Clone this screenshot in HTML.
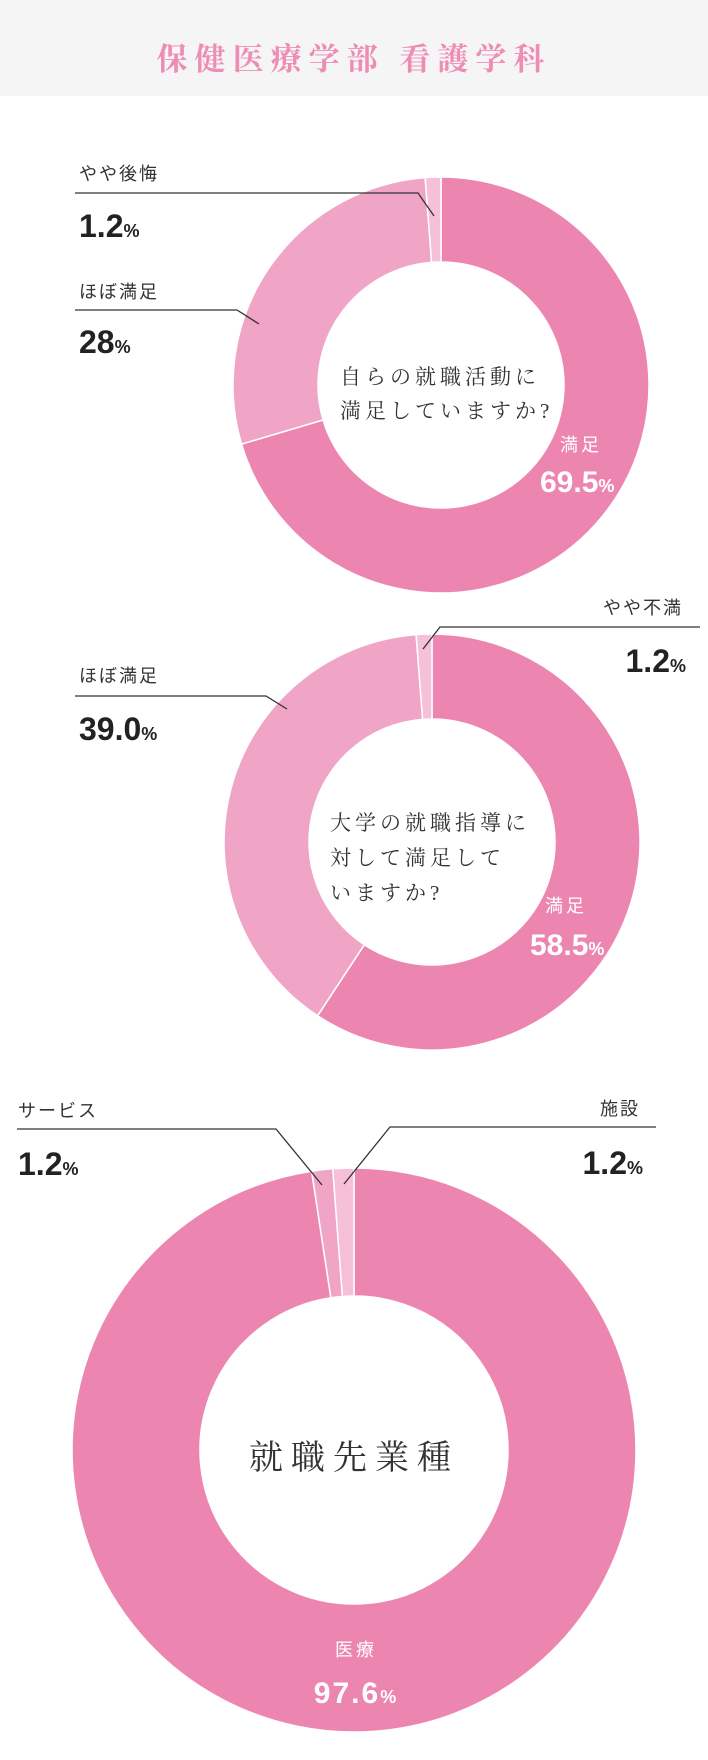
<!DOCTYPE html>
<html><head><meta charset="utf-8">
<style>
body{margin:0;width:708px;height:1760px;background:#fff;overflow:hidden;font-family:"Liberation Sans","Noto Sans CJK JP",sans-serif;}
svg{display:block}
.lbl{font-family:"Liberation Sans","Noto Sans CJK JP",sans-serif;font-size:18px;fill:#333;letter-spacing:2px}
.num{font-family:"Liberation Sans Narrow","Liberation Sans",sans-serif;font-weight:bold;font-size:32px;fill:#222}
.pct{font-size:18px}
.ctr{font-family:"Liberation Serif","Noto Serif CJK SC",serif;font-size:21px;fill:#333;letter-spacing:4px}
.wl{font-family:"Liberation Sans","Noto Sans CJK JP",sans-serif;font-size:18px;fill:#fff;letter-spacing:3px}
.wn{font-family:"Liberation Sans Narrow","Liberation Sans",sans-serif;font-weight:bold;font-size:30px;fill:#fff}
</style></head>
<body>
<svg id="page" width="708" height="1760" viewBox="0 0 708 1760">
<rect x="0" y="0" width="708" height="96" fill="#f5f5f5"/>
<text x="354" y="70" text-anchor="middle" font-family="'Liberation Serif','Noto Serif CJK SC',serif" font-weight="bold" font-size="31" fill="#ee8cb4" letter-spacing="7">保健医療学部 看護学科</text>
<g id="charts"></g>

<!-- chart1 labels -->
<text class="lbl" x="79" y="180">やや後悔</text>
<polyline points="75,193 418,193 434,216" fill="none" stroke="#333" stroke-width="1.3"/>
<text class="num" x="79" y="237">1.2<tspan class="pct">%</tspan></text>
<text class="lbl" x="79" y="298">ほぼ満足</text>
<polyline points="75,310 237,310 259,324" fill="none" stroke="#333" stroke-width="1.3"/>
<text class="num" x="79" y="353">28<tspan class="pct">%</tspan></text>
<text class="ctr" x="340" y="384">自らの就職活動に</text>
<text class="ctr" x="340" y="418">満足していますか?</text>
<text class="wl" x="560" y="451">満足</text>
<text class="wn" x="540" y="492">69.5<tspan class="pct">%</tspan></text>

<!-- chart2 labels -->
<text class="lbl" x="683" y="614" text-anchor="end">やや不満</text>
<polyline points="700,627 440,627 423,649" fill="none" stroke="#333" stroke-width="1.3"/>
<text class="num" x="686" y="672" text-anchor="end">1.2<tspan class="pct">%</tspan></text>
<text class="lbl" x="79" y="682">ほぼ満足</text>
<polyline points="75,696 266,696 287,709" fill="none" stroke="#333" stroke-width="1.3"/>
<text class="num" x="79" y="740">39.0<tspan class="pct">%</tspan></text>
<text class="ctr" x="330" y="830">大学の就職指導に</text>
<text class="ctr" x="330" y="865">対して満足して</text>
<text class="ctr" x="330" y="900">いますか?</text>
<text class="wl" x="545" y="912">満足</text>
<text class="wn" x="530" y="955">58.5<tspan class="pct">%</tspan></text>

<!-- chart3 labels -->
<text class="lbl" x="18" y="1117">サービス</text>
<polyline points="17,1129 276,1129 322,1185" fill="none" stroke="#333" stroke-width="1.3"/>
<text class="num" x="18" y="1175">1.2<tspan class="pct">%</tspan></text>
<text class="lbl" x="640" y="1115" text-anchor="end">施設</text>
<polyline points="656,1127 390,1127 344,1184" fill="none" stroke="#333" stroke-width="1.3"/>
<text class="num" x="643" y="1174" text-anchor="end">1.2<tspan class="pct">%</tspan></text>
<text x="354" y="1469" text-anchor="middle" font-family="'Liberation Serif','Noto Serif CJK SC',serif" font-size="34" fill="#333" letter-spacing="8">就職先業種</text>
<text class="wl" x="356" y="1656" text-anchor="middle">医療</text>
<text class="wn" x="356" y="1703" text-anchor="middle" letter-spacing="2">97.6<tspan class="pct">%</tspan></text>
</svg>
<script>
const chart1Categories = ["満足", "ほぼ満足", "やや後悔"];
const chart1Values = [69.5, 28, 1.2];
const chart2Categories = ["満足", "ほぼ満足", "やや不満"];
const chart2Values = [58.5, 39.0, 1.2];
const chart3Categories = ["医療", "サービス", "施設"];
const chart3Values = [97.6, 1.2, 1.2];
const sliceColors = ["#ec86b0", "#f0a4c6", "#f5c0d8"];

const NS = "http://www.w3.org/2000/svg";
function angleScale(values) {
  const total = values.reduce((a, b) => a + b, 0);
  return v => v / total * Math.PI * 2;
}
function pt(cx, cy, r, a) { return [cx + r * Math.sin(a), cy - r * Math.cos(a)]; }
function drawDonut(id, cats, values, cx, cy, R, r) {
  const g = document.getElementById("charts");
  const sc = angleScale(values);
  let a0 = 0;
  values.forEach((v, i) => {
    const a1 = a0 + sc(v);
    const large = (a1 - a0) > Math.PI ? 1 : 0;
    const p1 = pt(cx, cy, R, a0), p2 = pt(cx, cy, R, a1);
    const p3 = pt(cx, cy, r, a1), p4 = pt(cx, cy, r, a0);
    const d = `M${p1[0]},${p1[1]} A${R},${R} 0 ${large} 1 ${p2[0]},${p2[1]} L${p3[0]},${p3[1]} A${r},${r} 0 ${large} 0 ${p4[0]},${p4[1]} Z`;
    const path = document.createElementNS(NS, "path");
    path.setAttribute("d", d);
    path.setAttribute("fill", sliceColors[i]);
    path.setAttribute("stroke", "#fff");
    path.setAttribute("stroke-width", "1.5");
    
    
    g.appendChild(path);
    a0 = a1;
  });
}
drawDonut("chart1", chart1Categories, chart1Values, 441, 385, 208, 123);
drawDonut("chart2", chart2Categories, chart2Values, 432, 842, 208, 123);
drawDonut("chart3", chart3Categories, chart3Values, 354, 1450, 282, 154);
</script>
</body></html>
